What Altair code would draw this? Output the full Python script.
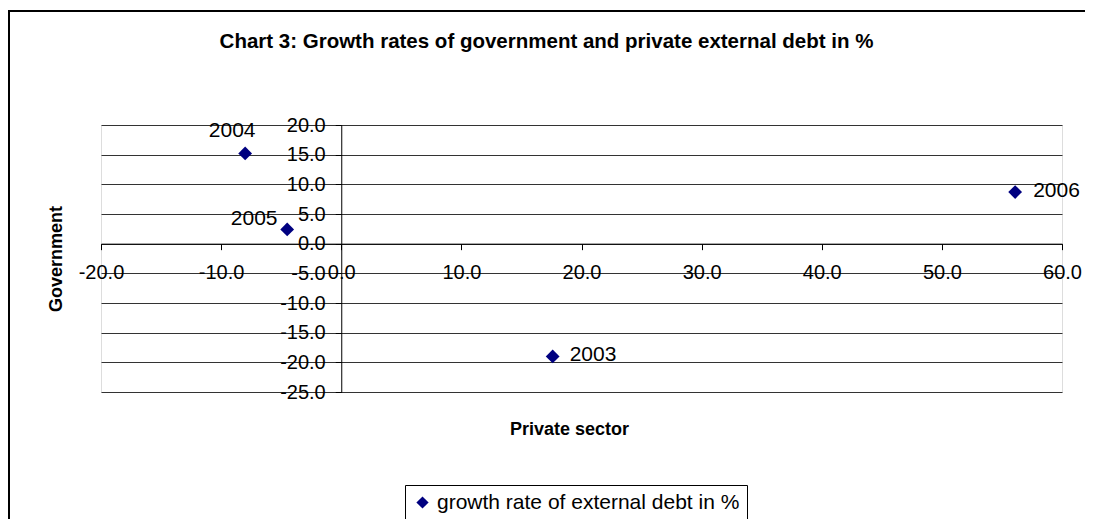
import altair as alt
import pandas as pd

years = ["2003", "2004", "2005", "2006"]
private_sector = [17.6, -8.0, -4.5, 56.1]
government = [-19.0, 15.2, 2.4, 8.7]
series_name = "growth rate of external debt in %"
chart_title = "Chart 3: Growth rates of government and private external debt in %"
x_ticks = [-20, -10, 0, 10, 20, 30, 40, 50, 60]
y_ticks = [-25, -20, -15, -10, -5, 0, 5, 10, 15, 20]

df = pd.DataFrame({"year": years, "private": private_sector,
                   "government": government, "series": series_name})

W, H = 961, 267
XMIN, XMAX, YMIN, YMAX = -20, 60, -25, 20
FONT = "Liberation Sans"
# axes cross at zero: displace each axis from its plot edge to the zero line
x_axis_off = -H * (0 - YMIN) / (YMAX - YMIN)
y_axis_off = -W * (0 - XMIN) / (XMAX - XMIN)
lab = "replace(format(datum.value, '.1f'), '\u2212', '-')"

xs = alt.Scale(domain=[XMIN, XMAX], nice=False, zero=False)
ys = alt.Scale(domain=[YMIN, YMAX], nice=False, zero=False)

X = alt.X("private:Q", scale=xs, axis=alt.Axis(
    values=x_ticks, labelExpr=lab, offset=x_axis_off, grid=False,
    domainColor="black", tickColor="black", tickSize=6, labelPadding=13,
    labelFlush=False, labelOverlap=False, labelFontSize=20, labelFont=FONT,
    labelColor="black", title="Private sector", titleFont=FONT,
    titleFontSize=18, titleFontWeight="bold", titleColor="black",
    titleX=468, titleY=186, titleBaseline="middle", titleAlign="center"))
Y = alt.Y("government:Q", scale=ys, axis=alt.Axis(
    values=y_ticks, labelExpr=lab, offset=y_axis_off, grid=True,
    gridColor="#333333", gridWidth=1,
    domainColor="black", tickColor="black", tickSize=6, labelPadding=10,
    labelFlush=False, labelOverlap=False, labelFontSize=20, labelFont=FONT,
    labelColor="black", title="Government", titleFont=FONT,
    titleFontSize=18, titleFontWeight="bold", titleColor="black",
    titleX=-285, titleY=H / 2, titleAngle=-90, titleBaseline="middle",
    titleAlign="center"))

base = alt.Chart(df)

points = base.mark_point(shape="diamond", filled=True, size=190, opacity=1).encode(
    x=X, y=Y,
    color=alt.Color("series:N", scale=alt.Scale(range=["#000080"]), legend=alt.Legend(
        title=None, orient="none", legendX=304, legendY=360, symbolType="diamond",
        symbolSize=150, labelFontSize=21, labelFont=FONT, labelColor="black",
        strokeColor="black", padding=7, cornerRadius=0, fillColor="white",
        symbolStrokeWidth=0, labelOffset=4, labelLimit=500)),
)

def label(year, dx, dy, align):
    return base.transform_filter(alt.datum.year == year).mark_text(
        font=FONT, fontSize=21, color="black", dx=dx, dy=dy, align=align,
        baseline="middle").encode(x=X, y=Y, text="year:N")

labels = (label("2004", -13, -22, "center") + label("2005", -33, -10, "center")
          + label("2006", 18, -1, "left") + label("2003", 17, -1, "left"))

border = alt.Chart(df).mark_rect(filled=False, stroke="black", strokeWidth=2).encode(
    x=alt.value(-92), x2=alt.value(W + 80), y=alt.value(-114), y2=alt.value(H + 200))

title = alt.Chart(pd.DataFrame({"t": [chart_title]})).mark_text(
    font=FONT, fontSize=20.5, fontWeight="bold", color="black", align="center",
    baseline="middle").encode(text="t:N", x=alt.value(W / 2 - 35), y=alt.value(-83))

chart = alt.layer(border, title, points, labels).properties(
    width=W, height=H,
    autosize=alt.AutoSizeParams(type="none"),
    padding={"left": 93, "top": 117, "right": 23, "bottom": 127},
).configure_view(stroke="#808080", strokeWidth=2).configure(background="white")

chart.save("out.html", embed_options={"renderer": "svg", "actions": False})
